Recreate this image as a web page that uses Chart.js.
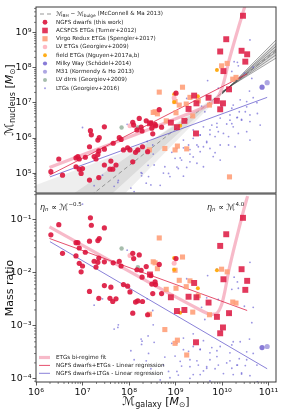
<!DOCTYPE html>
<html>
<head>
<meta charset="utf-8">
<script src="https://cdn.jsdelivr.net/npm/chart.js@4.4.1/dist/chart.umd.min.js"></script>
<style>
  html, body { margin: 0; padding: 0; background: #fff; }
  #wrap { position: relative; width: 293px; height: 413px; }
  #wrap canvas { position: absolute; left: 0; top: 0; }
</style>
</head>
<body>
<div id="wrap">
  <canvas id="topChart" width="293" height="413"></canvas>
  <canvas id="bottomChart" width="293" height="413"></canvas>
</div>
<script>
// all values are log10 of the masses
// galaxy mass = Mgal, nuclear mass = Mnuc (ratio panel uses Mnuc / Mgal)

// NGFS dwarfs (this work)
const ngfsGal = [6.49, 6.32, 6.57, 6.86, 6.90, 6.93, 6.86, 7.06, 7.15, 7.17, 7.19, 7.47, 7.33, 7.36, 7.25, 7.33, 7.35, 7.47, 7.29, 7.47,
                 7.61, 7.66, 7.72, 7.59, 7.65, 7.00, 6.93, 6.97, 7.15, 7.35, 7.79, 7.83, 7.88, 7.97, 8.02, 8.08, 8.14, 8.19, 8.08, 8.10,
                 8.22, 8.26, 8.28, 8.37, 8.47, 8.40, 8.29, 8.49, 8.57, 8.17, 8.65, 9.01, 8.56, 8.51, 8.70];
const ngfsNuc = [5.40, 5.04, 4.94, 5.18, 5.47, 5.40, 5.43, 5.45, 5.75, 6.21, 6.09, 6.32, 5.94, 6.01, 5.47, 5.53, 5.63, 5.68, 5.40, 5.23,
                 5.34, 5.85, 5.23, 5.11, 5.11, 5.13, 5.11, 4.99, 4.80, 4.87, 6.01, 5.96, 5.66, 5.72, 5.66, 5.32, 5.59, 5.66, 6.45, 6.37,
                 6.56, 6.31, 6.20, 6.49, 6.42, 5.61, 5.75, 6.28, 6.35, 6.23, 6.81, 7.28, 6.39, 6.12, 6.31];

// ACSFCS ETGs (Turner+2012)
const acsGal = [10.45, 10.09, 9.96, 10.42, 10.54, 10.50, 10.03, 10.15, 10.02, 9.96, 9.89, 9.71, 9.45, 9.40, 9.28, 9.19, 9.03, 8.90, 8.45, 9.44];
const acsNuc = [9.49, 8.82, 8.47, 8.49, 8.39, 8.18, 7.91, 7.39, 6.99, 6.82, 7.06, 7.15, 6.99, 7.21, 6.83, 6.49, 6.31, 6.44, 6.42, 6.13];

// Virgo Redux ETGs (Spengler+2017)
const virgoGal = [10.11, 9.99, 10.23, 10.30, 9.15, 8.65, 8.99, 9.08, 9.23, 9.31, 8.56, 8.61, 9.01, 9.49, 9.73, 9.37, 8.77, 9.04, 10.16, 8.80,
                  8.52, 8.44, 8.99, 9.24];
const virgoNuc = [8.13, 8.06, 7.68, 7.73, 7.45, 7.31, 7.04, 6.94, 6.97, 7.16, 6.75, 6.69, 6.72, 7.06, 6.94, 6.63, 5.70, 5.77, 4.89, 6.49,
                  6.73, 5.66, 5.66, 5.69];

// LV ETGs, field ETGs, Milky Way, M31, LV dIrrs
const lvEtgGal = [8.02, 8.97];
const lvEtgNuc = [6.35, 7.15];
const fieldGal = [9.89, 8.97, 8.97, 9.48, 9.10];
const fieldNuc = [7.94, 7.25, 7.03, 7.19, 6.35];
const mwGal = [10.86];
const mwNuc = [7.45];
const m31Gal = [10.97];
const m31Nuc = [7.58];
const dirrGal = [7.84, 8.19, 8.17];
const dirrNuc = [6.30, 6.30, 5.64];

// LTGs (Georgiev+2016)
const ltgGal = [10.33, 10.35, 10.21, 10.48, 9.89, 10.67, 9.69, 10.64, 10.59, 10.17, 9.92, 9.67, 9.24, 10.39, 10.53, 10.75, 10.24, 9.99, 9.56, 10.21,
                10.37, 10.50, 10.60, 10.17, 10.76, 10.33, 9.63, 10.17, 10.42, 10.60, 10.82, 9.89, 9.78, 10.24, 9.60, 9.38, 9.74, 9.92, 10.03, 10.35,
                10.53, 9.53, 9.85, 9.38, 10.14, 9.17, 9.67, 10.60, 9.28, 9.46, 9.60, 9.74, 9.96, 10.14, 10.28, 9.03, 9.53, 9.85, 9.31, 8.99,
                9.13, 9.31, 9.46, 9.60, 9.81, 8.77, 9.06, 9.24, 9.96, 8.85, 9.17, 8.88, 7.00, 7.96, 8.39, 8.51, 7.43, 7.76, 7.25, 8.28,
                8.37, 8.54, 8.47, 8.11, 7.68, 7.77, 8.26, 8.04, 8.27, 8.41, 10.60, 10.26, 8.52, 8.42, 8.67, 8.92, 9.10, 9.31, 9.49, 9.67,
                9.74, 9.89, 10.10, 10.32, 10.53, 10.67, 9.17, 9.53, 9.96, 10.21, 10.42, 9.38, 9.03, 8.74];
const ltgNuc = [8.16, 8.06, 7.90, 7.85, 7.96, 8.02, 7.64, 7.70, 7.34, 7.39, 7.42, 7.20, 7.13, 7.09, 7.04, 7.01, 6.94, 6.90, 6.91, 6.85,
                6.75, 6.75, 6.66, 6.66, 6.70, 6.59, 6.75, 6.51, 6.51, 6.47, 6.37, 6.42, 6.37, 6.32, 6.32, 6.23, 6.23, 6.18, 6.13, 6.13,
                6.18, 6.09, 6.04, 5.99, 6.04, 5.94, 5.90, 5.94, 5.80, 5.80, 5.75, 5.70, 5.80, 5.80, 5.75, 5.70, 5.61, 5.58, 5.54, 5.42,
                5.37, 5.32, 5.28, 5.18, 5.47, 5.18, 5.13, 5.16, 5.37, 4.99, 4.91, 4.90, 6.30, 6.39, 5.90, 5.80, 4.94, 4.73, 4.64, 4.99,
                4.71, 5.23, 4.66, 4.47, 4.62, 4.79, 5.01, 4.57, 4.92, 5.22, 8.80, 8.18, 5.54, 4.90, 4.65, 5.59, 5.43, 5.67, 5.75, 5.87,
                6.10, 6.31, 6.40, 6.58, 6.89, 7.15, 5.72, 6.08, 6.57, 6.41, 6.53, 5.46, 5.17, 5.00];

// McConnell & Ma 2013 relation: shaded bands, central dashed line, fan of lines
const mmLightAGal = [6, 7.8, 8.6, 9.4, 10.15, 11.16];
const mmLightANuc = [4.66, 5.56, 6.02, 6.72, 7.45, 8.28];
const mmLightBGal = [6, 8.24, 10.15, 11.16];
const mmLightBNuc = [1.8, 4.86, 7.45, 8.80];
const mmDarkGal = [6, 10.15, 11.16];
const mmDarkANuc = [3.68, 7.45, 8.37];
const mmDarkBNuc = [2.43, 7.45, 8.70];
const mmMidGal = [6, 11.16];
const mmMidNuc = [3.13, 8.50];
const fanGal = [10.0, 11.16];
const fanStartNuc = [7.33, 7.31, 7.30, 7.29, 7.28, 7.26, 7.25];
const fanEndNuc = [8.28, 8.37, 8.46, 8.54, 8.62, 8.70, 8.80];

// fits
const biGal = [6.29, 8.45, 9.53, 9.74, 9.89, 9.99, 10.06, 10.14, 10.24, 10.35, 10.46, 10.55];
const biNuc = [5.16, 6.26, 6.83, 6.96, 7.13, 7.39, 7.71, 8.16, 8.64, 9.14, 9.63, 10.0];
const etgFitGal = [6.29, 10.54];
const etgFitNuc = [4.94, 7.83];
const ltgFitGal = [6.30, 10.97];
const ltgFitNuc = [4.89, 7.16];

// axis ranges (log10) and tick labels
const xRange = [6, 11.16];
const topRange = [4.43, 9.74];
const botRange = [-4.06, -0.51];
const xTicks = [6, 7, 8, 9, 10, 11];
const topTicks = [5, 6, 7, 8, 9];
const botTicks = [-4, -3, -2, -1];

const FONT = '"DejaVu Sans", sans-serif';
const supMap = { '-': '⁻', '0': '⁰', '1': '¹', '2': '²', '3': '³', '4': '⁴', '5': '⁵', '6': '⁶', '7': '⁷', '8': '⁸', '9': '⁹' };

function powLabel(e) {
    return '10' + String(e).split('').map(c => supMap[c]).join('');
}

function massPoints(gal, nuc) {
    return gal.map((g, i) => ({ x: Math.pow(10, g), y: Math.pow(10, nuc[i]) }));
}

function ratioPoints(gal, nuc) {
    return gal.map((g, i) => ({ x: Math.pow(10, g), y: Math.pow(10, nuc[i] - g) }));
}

function scatterSet(points, color, radius, style, order) {
    return { type: 'scatter', data: points, backgroundColor: color, borderWidth: 0,
             pointRadius: radius, pointStyle: style, order: order };
}

function lineSet(points, color, width, order, extra) {
    return Object.assign({ type: 'line', data: points, borderColor: color, borderWidth: width,
                           pointRadius: 0, fill: false, tension: 0, order: order }, extra || {});
}

// log axis with only the decades labelled
function logAxis(range, ticks, extra) {
    return Object.assign({
        type: 'logarithmic',
        min: Math.pow(10, range[0]),
        max: Math.pow(10, range[1]),
        afterBuildTicks: (scale) => { scale.ticks = ticks.map(e => ({ value: Math.pow(10, e), major: true })); },
        ticks: {
            autoSkip: false, maxRotation: 0, color: '#111', padding: 1,
            font: { family: FONT, size: 9.5 },
            callback: (v) => powLabel(Math.round(Math.log10(v)))
        },
        grid: { drawOnChartArea: false, drawTicks: true, tickLength: 3.5, color: '#333', tickWidth: 0.8 },
        border: { display: false }
    }, extra || {});
}

function fixY(scale) {
    scale.width = 36;
    scale.paddingTop = scale.paddingBottom = scale.paddingLeft = scale.paddingRight = 0;
}

// text with sub / superscripts: parts = [text, size, dy, italic]
function rich(ctx, x, y, parts, align) {
    let w = 0;
    parts.forEach(p => { ctx.font = (p[3] ? 'italic ' : '') + p[1] + 'px ' + FONT; w += ctx.measureText(p[0]).width; });
    let cx = align === 'center' ? x - w / 2 : x;
    parts.forEach(p => {
        ctx.font = (p[3] ? 'italic ' : '') + p[1] + 'px ' + FONT;
        ctx.fillText(p[0], cx, y + (p[2] || 0));
        cx += ctx.measureText(p[0]).width;
    });
}

function minorTicks(ctx, scale, range, vertical, a) {
    ctx.strokeStyle = '#333';
    ctx.lineWidth = 0.6;
    for (let n = Math.floor(range[0]); n <= Math.ceil(range[1]); n++) {
        for (let k = 2; k <= 9; k++) {
            const lv = n + Math.log10(k);
            if (lv < range[0] || lv > range[1]) continue;
            const p = scale.getPixelForValue(k * Math.pow(10, n));
            ctx.beginPath();
            if (vertical) { ctx.moveTo(a.left, p); ctx.lineTo(a.left - 2, p); }
            else { ctx.moveTo(p, a.bottom); ctx.lineTo(p, a.bottom + 2); }
            ctx.stroke();
        }
    }
}

function frame(ctx, a) {
    ctx.strokeStyle = '#3a3a3a';
    ctx.lineWidth = 1;
    ctx.strokeRect(a.left, a.top, a.right - a.left, a.bottom - a.top);
}

function marker(ctx, x, y, style, r, color) {
    ctx.fillStyle = color;
    ctx.beginPath();
    if (style === 'rect') ctx.rect(x - r, y - r, 2 * r, 2 * r);
    else ctx.arc(x, y, r, 0, Math.PI * 2);
    ctx.fill();
}

const C = {
    ngfs: 'rgba(220,20,60,0.9)',
    acs: 'rgba(222,30,70,0.88)',
    virgo: 'rgba(255,160,122,0.9)',
    lv: 'rgba(255,182,193,0.95)',
    field: 'rgba(255,165,0,0.9)',
    mw: 'rgba(106,90,205,0.8)',
    m31: 'rgba(130,120,210,0.65)',
    dirr: 'rgba(150,178,158,0.85)',
    ltg: 'rgba(100,90,210,0.65)',
    bi: 'rgba(242,140,165,0.6)',
    etg: 'rgba(220,20,60,0.75)',
    ltgFit: 'rgba(90,80,200,0.8)'
};

// ---------- top panel ----------
const topSets = [
    lineSet(massPoints(mmLightAGal, mmLightANuc), 'transparent', 0, 30, { fill: '+1', backgroundColor: 'rgba(0,0,0,0.065)' }),
    lineSet(massPoints(mmLightBGal, mmLightBNuc), 'transparent', 0, 30),
    lineSet(massPoints(mmDarkGal, mmDarkANuc), 'transparent', 0, 29, { fill: '+1', backgroundColor: 'rgba(0,0,0,0.08)' }),
    lineSet(massPoints(mmDarkGal, mmDarkBNuc), 'transparent', 0, 29),
    lineSet(massPoints(mmMidGal, mmMidNuc), 'rgba(140,140,140,0.9)', 1, 28, { borderDash: [4, 3] })
];
fanStartNuc.forEach((s, i) => {
    topSets.push(lineSet(massPoints(fanGal, [s, fanEndNuc[i]]), 'rgba(60,60,60,0.75)', 0.6, 27));
});
topSets.push(
    scatterSet(massPoints(ltgGal, ltgNuc), C.ltg, 0.9, 'circle', 20),
    scatterSet(massPoints(dirrGal, dirrNuc), C.dirr, 2.2, 'circle', 15),
    scatterSet(massPoints(m31Gal, m31Nuc), C.m31, 2.6, 'circle', 15),
    scatterSet(massPoints(mwGal, mwNuc), C.mw, 2.6, 'circle', 15),
    lineSet(massPoints(biGal, biNuc), C.bi, 3.2, 12, { tension: 0.25 }),
    lineSet(massPoints(etgFitGal, etgFitNuc), C.etg, 1, 11),
    lineSet(massPoints(ltgFitGal, ltgFitNuc), C.ltgFit, 0.9, 11),
    scatterSet(massPoints(virgoGal, virgoNuc), C.virgo, 3.6, 'rect', 8),
    scatterSet(massPoints(fieldGal, fieldNuc), C.field, 2, 'circle', 7),
    scatterSet(massPoints(lvEtgGal, lvEtgNuc), C.lv, 2.5, 'circle', 6),
    scatterSet(massPoints(acsGal, acsNuc), C.acs, 4.2, 'rect', 5),
    scatterSet(massPoints(ngfsGal, ngfsNuc), C.ngfs, 2.6, 'circle', 4)
);

const topDecor = {
    id: 'topDecor',
    afterDraw(chart) {
        const ctx = chart.ctx, a = chart.chartArea;
        ctx.save();
        frame(ctx, a);
        minorTicks(ctx, chart.scales.y, topRange, true, a);

        // y title
        ctx.fillStyle = '#111';
        ctx.textBaseline = 'middle';
        ctx.save();
        ctx.translate(10, (a.top + a.bottom) / 2);
        ctx.rotate(-Math.PI / 2);
        rich(ctx, 0, 0, [['ℳ', 12], ['nucleus', 8, 3], [' [', 11], ['M', 11, 0, true], ['⊙', 7.5, 3], [']', 11]], 'center');
        ctx.restore();

        // legend
        const lx = a.left + 9, tx = a.left + 20, y0 = 14, dy = 8.25, fs = 5.6;
        ctx.strokeStyle = 'rgba(140,140,140,0.9)';
        ctx.lineWidth = 1;
        ctx.setLineDash([4, 3]);
        ctx.beginPath(); ctx.moveTo(a.left + 4, y0); ctx.lineTo(a.left + 17, y0); ctx.stroke();
        ctx.setLineDash([]);
        ctx.fillStyle = '#222';
        rich(ctx, tx, y0, [['ℳ', 6.2], ['BH', 4.3, 1.5], [' − ', fs], ['ℳ', 6.2], ['bulge', 4.3, 1.5], [' (McConnell & Ma 2013)', fs]]);
        const rows = [
            ['circle', 2.4, C.ngfs, 'NGFS dwarfs (this work)'],
            ['rect', 2.8, C.acs, 'ACSFCS ETGs (Turner+2012)'],
            ['rect', 2.6, C.virgo, 'Virgo Redux ETGs (Spengler+2017)'],
            ['circle', 2.3, C.lv, 'LV ETGs (Georgiev+2009)'],
            ['circle', 1.9, C.field, 'field ETGs (Nguyen+2017a,b)'],
            ['circle', 2.1, C.mw, 'Milky Way (Schödel+2014)'],
            ['circle', 2.1, C.m31, 'M31 (Kormendy & Ho 2013)'],
            ['circle', 2.0, C.dirr, 'LV dIrrs (Georgiev+2009)'],
            ['circle', 0.9, C.ltg, 'LTGs (Georgiev+2016)']
        ];
        rows.forEach((r, i) => {
            const y = y0 + (i + 1) * dy;
            marker(ctx, lx, y, r[0], r[1], r[2]);
            ctx.fillStyle = '#222';
            ctx.font = fs + 'px ' + FONT;
            ctx.fillText(r[3], tx, y);
        });
        ctx.restore();
    }
};

new Chart(document.getElementById('topChart'), {
    type: 'scatter',
    data: { datasets: topSets },
    options: {
        responsive: false, animation: false, events: [],
        layout: { padding: { left: 0, right: 17, top: 7, bottom: 220 }, autoPadding: false },
        plugins: { legend: { display: false }, tooltip: { enabled: false } },
        scales: {
            x: logAxis(xRange, xTicks, { display: false }),
            y: logAxis(topRange, topTicks, { afterFit: fixY })
        }
    },
    plugins: [topDecor]
});

// ---------- bottom panel ----------
const botSets = [
    scatterSet(ratioPoints(ltgGal, ltgNuc), C.ltg, 0.9, 'circle', 20),
    scatterSet(ratioPoints(dirrGal, dirrNuc), C.dirr, 2.2, 'circle', 15),
    scatterSet(ratioPoints(m31Gal, m31Nuc), C.m31, 2.6, 'circle', 15),
    scatterSet(ratioPoints(mwGal, mwNuc), C.mw, 2.6, 'circle', 15),
    lineSet(ratioPoints(biGal, biNuc), C.bi, 3.2, 12, { tension: 0.25 }),
    lineSet(ratioPoints(etgFitGal, etgFitNuc), C.etg, 1, 11),
    lineSet(ratioPoints(ltgFitGal, ltgFitNuc), C.ltgFit, 0.9, 11),
    scatterSet(ratioPoints(virgoGal, virgoNuc), C.virgo, 3.6, 'rect', 8),
    scatterSet(ratioPoints(fieldGal, fieldNuc), C.field, 2, 'circle', 7),
    scatterSet(ratioPoints(lvEtgGal, lvEtgNuc), C.lv, 2.5, 'circle', 6),
    scatterSet(ratioPoints(acsGal, acsNuc), C.acs, 4.2, 'rect', 5),
    scatterSet(ratioPoints(ngfsGal, ngfsNuc), C.ngfs, 2.6, 'circle', 4)
];

const botDecor = {
    id: 'botDecor',
    afterDraw(chart) {
        const ctx = chart.ctx, a = chart.chartArea;
        ctx.save();
        frame(ctx, a);
        minorTicks(ctx, chart.scales.y, botRange, true, a);
        minorTicks(ctx, chart.scales.x, xRange, false, a);

        ctx.fillStyle = '#111';
        ctx.textBaseline = 'middle';
        // y title
        ctx.save();
        ctx.translate(10, (a.top + a.bottom) / 2);
        ctx.rotate(-Math.PI / 2);
        ctx.font = '11px ' + FONT;
        ctx.textAlign = 'center';
        ctx.fillText('Mass ratio', 0, 0);
        ctx.restore();

        // x title
        rich(ctx, (a.left + a.right) / 2, 402, [['ℳ', 12], ['galaxy', 8, 3], [' [', 11], ['M', 11, 0, true], ['⊙', 7.5, 3], [']', 11]], 'center');

        // slope annotations
        ctx.fillStyle = '#222';
        rich(ctx, a.left + 4, 208, [['η', 8, 0, true], ['n', 5.5, 2, true], [' ∝ ', 8], ['ℳ', 8.5], ['−0.5', 5.5, -3]]);
        rich(ctx, 207, 208, [['η', 8, 0, true], ['n', 5.5, 2, true], [' ∝ ', 8], ['ℳ', 8.5], ['4.0', 5.5, -3]]);

        // legend
        const rows = [
            [C.bi, 3.2, 'ETGs bi-regime fit'],
            [C.etg, 1, 'NGFS dwarfs+ETGs - Linear regression'],
            [C.ltgFit, 0.9, 'NGFS dwarfs+LTGs - Linear regression']
        ];
        rows.forEach((r, i) => {
            const y = 357.5 + i * 7.9;
            ctx.strokeStyle = r[0];
            ctx.lineWidth = r[1];
            ctx.beginPath(); ctx.moveTo(a.left + 3, y); ctx.lineTo(a.left + 14, y); ctx.stroke();
            ctx.fillStyle = '#222';
            ctx.font = '5.6px ' + FONT;
            ctx.fillText(r[2], a.left + 20, y);
        });
        ctx.restore();
    }
};

new Chart(document.getElementById('bottomChart'), {
    type: 'scatter',
    data: { datasets: botSets },
    options: {
        responsive: false, animation: false, events: [],
        layout: { padding: { left: 0, right: 17, top: 194, bottom: 0 }, autoPadding: false },
        plugins: { legend: { display: false }, tooltip: { enabled: false } },
        scales: {
            x: logAxis(xRange, xTicks, {
                afterFit: (scale) => {
                    scale.height = 31;
                    scale.paddingTop = scale.paddingBottom = scale.paddingLeft = scale.paddingRight = 0;
                }
            }),
            y: logAxis(botRange, botTicks, { afterFit: fixY })
        }
    },
    plugins: [botDecor]
});
</script>
</body>
</html>
